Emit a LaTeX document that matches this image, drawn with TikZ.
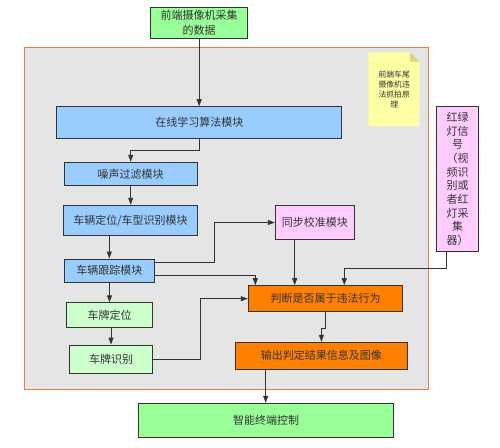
\documentclass[tikz,border=0pt]{standalone}
\usepackage{fontspec}
\newfontfamily\cjk{Noto Sans CJK SC}
\usetikzlibrary{arrows.meta,calc}
\definecolor{cgreen}{HTML}{99FF99}
\definecolor{cblue}{HTML}{99CCFF}
\definecolor{cpink}{HTML}{FFCCFF}
\definecolor{corange}{HTML}{FF8000}
\definecolor{cpale}{HTML}{CCFFCC}
\definecolor{cbg}{HTML}{E5E5E5}
\definecolor{cframe}{HTML}{E97D3F}
\definecolor{cnote}{HTML}{FFFFA3}
\definecolor{cfold}{HTML}{D6D67C}
\definecolor{cline}{HTML}{333333}
\definecolor{ctext}{HTML}{333333}
\tikzset{
  box/.style={draw=cline, line width=1pt, inner sep=0pt, align=center, text=ctext,
    font=\cjk\fontsize{11}{14.5}\selectfont},
  arr/.style={draw=cline, line width=0.9pt, -{Triangle[length=7pt,width=5pt]}},
}
\begin{document}
\begin{tikzpicture}[x=1pt,y=-1pt]
\useasboundingbox (0,0) rectangle (500,447);
% container
\draw[cframe, fill=cbg, line width=1.2pt] (24.7,47.7) rectangle (428.3,389.3);
% note
\fill[cnote] (368.3,52.3) -- (410,52.3) -- (419.3,61.6) -- (419.3,126) -- (368.3,126) -- cycle;
\fill[cfold] (410,52.3) -- (419.3,61.6) -- (410,61.6) -- cycle;
\node[align=center, text=ctext, font=\cjk\fontsize{7.8}{10}\selectfont, inner sep=0pt] (note) at (394.2,89.5) {前端车尾\\摄像机违\\法抓拍原\\理};
% nodes
\node[box, fill=cgreen, minimum width=97pt, minimum height=31pt] (top) at (199.2,22.8) {前端摄像机采集\\的数据};
\node[box, fill=cblue, minimum width=284.7pt, minimum height=32pt] (online) at (199.3,122.7) {在线学习算法模块};
\node[box, fill=cblue, minimum width=132.7pt, minimum height=23.4pt] (noise) at (130.7,174) {噪声过滤模块};
\node[box, fill=cblue, minimum width=134.4pt, minimum height=30.4pt] (vehloc) at (130.5,220.5) {车辆定位/车型识别模块};
\node[box, fill=cblue, minimum width=90pt, minimum height=23.3pt] (track) at (109.3,270.7) {车辆跟踪模块};
\node[box, fill=cpink, minimum width=79pt, minimum height=33.6pt] (sync) at (314.8,222.5) {同步校准模块};
\node[box, fill=cpink, minimum width=42.4pt, minimum height=144.3pt, font=\cjk\fontsize{11}{13.7}\selectfont] (light) at (457.5,178.9) {红绿\\灯信\\号\\（视\\频识\\别或\\者红\\灯采\\集\\器）};
\node[box, fill=corange, minimum width=154.4pt, minimum height=26pt] (judge) at (325.5,298.7) {判断是否属于违法行为};
\node[box, fill=cpale, minimum width=86.4pt, minimum height=24.3pt] (plateloc) at (109.5,314.9) {车牌定位};
\node[box, fill=cpale, minimum width=83.4pt, minimum height=28.3pt] (platerec) at (111,359.2) {车牌识别};
\node[box, fill=corange, minimum width=171.3pt, minimum height=26.7pt] (output) at (321.4,355.7) {输出判定结果信息及图像};
\node[box, fill=cgreen, minimum width=255pt, minimum height=33.7pt] (final) at (266.2,420.2) {智能终端控制};
% connectors
\draw[arr] (top.south) -- (top.south |- online.north);
\draw[arr] (online.south) -- ++(0,11.3) -| (noise.north);
\draw[arr] (noise.south) -- (noise.south |- vehloc.north);
\draw[arr] (track.north |- vehloc.south) -- (track.north);
\draw[arr] ($(track.east)+(0,-8.4)$) -- ++(60,0) |- (sync.west);
\draw[arr] ($(track.east)+(0,5)$) -| ($(judge.north)+(-70.2,0)$);
\coordinate (syncout) at ($(sync.south)+(-20.1,0)$);
\draw[arr] (syncout) -- (syncout |- judge.north);
\draw[arr] ($(light.south)+(-10.8,0)$) -- ++(0,17) -| ($(judge.north)+(18.8,0)$);
\draw[arr] (plateloc.north |- track.south) -- (plateloc.north);
\draw[arr] (platerec.north |- plateloc.south) -- (platerec.north);
\draw[arr] (platerec.east) -- ++(47.6,0) |- (judge.west);
\draw[arr] (judge.south) -- ++(0,16.6) -| (output.north);
\coordinate (outout) at ($(output.south)+(-55.7,0)$);
\draw[arr] (outout) -- (outout |- final.north);
\end{tikzpicture}
\end{document}
